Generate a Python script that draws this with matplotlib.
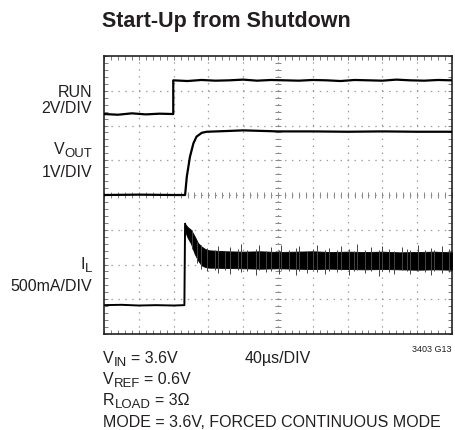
import numpy as np
import matplotlib.pyplot as plt
from matplotlib.ticker import MultipleLocator

plt.rcParams['font.family'] = ['Liberation Sans', 'DejaVu Sans']
plt.rcParams['lines.scale_dashes'] = False

# scope traces, time in divisions (40us/DIV), level in divisions from screen bottom
run_t = [0.0, 0.4, 0.8, 1.2, 1.6, 1.99, 1.99, 2.4, 2.8, 3.2, 3.6, 4.0, 4.4, 4.8,
         5.2, 5.6, 6.0, 6.4, 6.8, 7.2, 7.6, 8.0, 8.4, 8.8, 9.2, 9.6, 10.0]
run_v = [6.33, 6.31, 6.35, 6.32, 6.34, 6.33, 7.30, 7.28, 7.31, 7.29, 7.30, 7.32, 7.29, 7.31,
         7.30, 7.29, 7.31, 7.30, 7.28, 7.31, 7.30, 7.29, 7.32, 7.30, 7.29, 7.31, 7.30]

vout_t = [0.0, 1.0, 2.0, 2.33, 2.38, 2.47, 2.57, 2.66, 2.81, 2.95, 3.5, 4.0,
          5.0, 6.0, 7.0, 8.0, 9.0, 10.0]
vout_v = [4.0, 4.01, 4.0, 4.0, 4.53, 5.10, 5.49, 5.68, 5.79, 5.82, 5.84, 5.86,
          5.83, 5.83, 5.82, 5.83, 5.82, 5.82]

il_t = [0.0, 0.5, 1.0, 1.5, 2.0, 2.31, 2.33]
il_v = [0.83, 0.84, 0.82, 0.83, 0.82, 0.83, 3.17]

# dark core of the inductor current ripple
band_t = [2.33, 2.4, 2.5, 2.6, 2.7, 2.8, 2.9, 3.0, 3.5, 4.0, 4.5,
          5.0, 5.5, 6.0, 6.5, 7.0, 7.5, 8.0, 8.5, 9.0, 9.5, 10.0]
band_hi = [3.17, 3.08, 3.00, 2.82, 2.62, 2.52, 2.45, 2.41, 2.38, 2.37, 2.38,
           2.36, 2.37, 2.38, 2.36, 2.37, 2.36, 2.37, 2.35, 2.36, 2.37, 2.35]
band_lo = [2.95, 2.78, 2.60, 2.32, 2.12, 1.98, 1.93, 1.91, 1.90, 1.89, 1.88,
           1.89, 1.88, 1.87, 1.88, 1.87, 1.86, 1.87, 1.86, 1.85, 1.86, 1.85]

# noise spikes on the ripple
spike_t = [2.52, 2.68, 2.80, 2.97, 3.18, 3.27, 3.49, 3.61, 3.86, 3.95,
           4.12, 4.37, 4.45, 4.66, 4.79, 5.02, 5.10, 5.33, 5.51, 5.60,
           5.84, 6.02, 6.11, 6.35, 6.47, 6.70, 6.81, 7.04, 7.19, 7.28,
           7.50, 7.66, 7.89, 7.98, 8.20, 8.33, 8.55, 8.71, 8.80, 9.03,
           9.21, 9.40, 9.49, 9.72, 9.90]
spike_hi = [2.98, 2.66, 2.55, 2.47, 2.42, 2.53, 2.40, 2.49, 2.44, 2.58,
            2.41, 2.46, 2.55, 2.40, 2.50, 2.43, 2.57, 2.41, 2.47, 2.52,
            2.40, 2.44, 2.56, 2.42, 2.48, 2.41, 2.53, 2.45, 2.40, 2.59,
            2.43, 2.49, 2.41, 2.54, 2.44, 2.40, 2.51, 2.46, 2.42, 2.57,
            2.41, 2.48, 2.43, 2.52, 2.44]
spike_lo = [2.45, 2.05, 1.86, 1.80, 1.85, 1.76, 1.83, 1.72, 1.84, 1.79,
            1.81, 1.70, 1.84, 1.77, 1.82, 1.74, 1.83, 1.80, 1.69, 1.82,
            1.76, 1.83, 1.79, 1.72, 1.82, 1.78, 1.84, 1.71, 1.80, 1.83,
            1.75, 1.81, 1.68, 1.82, 1.78, 1.74, 1.83, 1.80, 1.73, 1.81,
            1.77, 1.70, 1.82, 1.76, 1.79]

W, H = 456, 430
INK = '#231f20'
fig = plt.figure(figsize=(W / 100, H / 100), dpi=100)
ax = fig.add_axes([104 / W, 1 - 334 / H, 348 / W, 278 / H])
ax.set_xlim(0, 10)
ax.set_ylim(0, 8)

# graticule
for x in range(1, 10):
    ax.axvline(x, color='#999999', lw=0.9, ls=(0, (1, 4)), zorder=1)
for y in range(1, 8):
    ax.axhline(y, color='#999999', lw=0.9, ls=(0, (1, 4)), zorder=1)
ax.plot(np.full(41, 5.0), np.arange(0, 8.01, 0.2), ls='none', marker='_', ms=4,
        mew=0.7, color='#888888', zorder=1)
ax.plot(np.arange(0, 10.01, 0.2), np.full(51, 4.0), ls='none', marker='|', ms=4,
        mew=0.7, color='#888888', zorder=1)

ax.xaxis.set_major_locator(MultipleLocator(1))
ax.yaxis.set_major_locator(MultipleLocator(1))
ax.xaxis.set_minor_locator(MultipleLocator(0.2))
ax.yaxis.set_minor_locator(MultipleLocator(0.2))
ax.tick_params(which='both', direction='in', top=True, right=True, length=3,
               width=0.6, color='#666666', labelbottom=False, labelleft=False)
for sp in ax.spines.values():
    sp.set_linewidth(1.2)
    sp.set_color('#222222')

# traces
ax.plot(run_t, run_v, color='black', lw=1.6, zorder=3)
ax.plot(vout_t, vout_v, color='black', lw=1.6, zorder=3)
ax.plot(il_t, il_v, color='black', lw=1.4, zorder=3)
ax.fill_between(band_t, band_lo, band_hi, color='black', lw=0.6, zorder=3)
ax.vlines(spike_t, spike_lo, spike_hi, color='#444444', lw=0.7, zorder=3)

renderer = fig.canvas.get_renderer()


def px(x, y, s, **kw):
    return fig.text(x / W, 1 - y / H, s, **kw)


def rich(x, y, main, sub, rest='', ha='left', size=11.5):
    # text with a large, low subscript like the datasheet typesetting
    parts = [(main, 0, size), (sub, 3, size * 0.82)]
    if rest:
        parts.append((rest, 0, size))
    texts = []
    cx = x
    for i, (s, dy, fs) in enumerate(parts):
        if i == 2:
            cx += 4.4
        t = px(cx, y + dy, s, fontsize=fs, ha='left', va='baseline', color=INK)
        cx += t.get_window_extent(renderer).width
        texts.append(t)
    if ha == 'right':
        shift = (cx - x) / W
        for t in texts:
            tx, ty = t.get_position()
            t.set_position((tx - shift, ty))


px(102, 22, 'Start-Up from Shutdown', fontsize=15.5, weight='bold', ha='left', va='center',
   color=INK)

lab = dict(fontsize=11.5, ha='right', va='baseline', color=INK)
px(92, 97, 'RUN', **lab)
px(92, 113, '2V/DIV', **lab)
rich(92, 154, 'V', 'OUT', ha='right')
px(92, 177, '1V/DIV', **lab)
rich(92, 269, 'I', 'L', ha='right')
px(92, 291, '500mA/DIV', **lab)

note = dict(fontsize=11.5, ha='left', va='baseline', color=INK)
rich(103, 363, 'V', 'IN', '= 3.6V')
rich(103, 384, 'V', 'REF', '= 0.6V')
rich(103, 405, 'R', 'LOAD', '= 3Ω')
px(103, 427, 'MODE = 3.6V, FORCED CONTINUOUS MODE', **note)
px(245, 363, '40µs/DIV', **note)
px(452, 352, '3403 G13', fontsize=6.5, ha='right', va='baseline', color=INK)

fig.savefig('out.png', dpi=100)
